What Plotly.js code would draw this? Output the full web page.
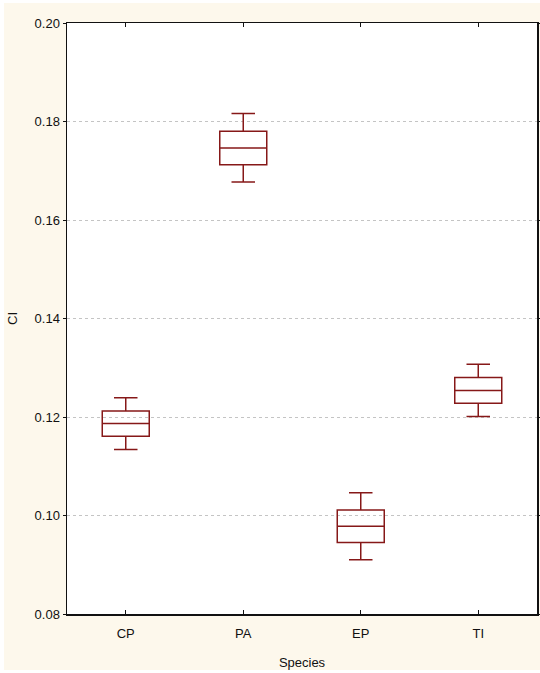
<!DOCTYPE html>
<html>
<head>
<meta charset="utf-8">
<script src="https://cdn.plot.ly/plotly-3.0.1.min.js"></script>
<style>
html,body{margin:0;padding:0;background:#ffffff;}
#wrap{position:absolute;left:4px;top:3px;width:536px;height:667px;background:#fdf8ec;}
#chart{position:absolute;left:0;top:0;width:540px;height:673px;}
</style>
</head>
<body>
<div id="wrap"></div>
<div id="chart"></div>
<script>
const species = ["CP", "PA", "EP", "TI"];
const lowerWhisker = [0.1134, 0.1677, 0.0910, 0.1201];
const q1 = [0.1161, 0.1712, 0.0945, 0.1228];
const median = [0.1187, 0.1746, 0.0978, 0.1254];
const q3 = [0.1212, 0.1780, 0.1011, 0.1280];
const upperWhisker = [0.1239, 0.1816, 0.1046, 0.1307];
const yTicks = [0.08, 0.10, 0.12, 0.14, 0.16, 0.18, 0.20];
const yTickLabels = ["0.08", "0.10", "0.12", "0.14", "0.16", "0.18", "0.20"];

const trace = {
  type: "box",
  x: species,
  q1: q1,
  median: median,
  q3: q3,
  lowerfence: lowerWhisker,
  upperfence: upperWhisker,
  boxpoints: false,
  width: 0.4,
  whiskerwidth: 0.5,
  line: {color: "#861818", width: 1.5},
  fillcolor: "rgba(255,255,255,0)",
  hoverinfo: "skip",
  showlegend: false
};

const font = {family: "Liberation Sans, Arial, sans-serif", size: 13, color: "#111"};

const layout = {
  width: 540,
  height: 673,
  margin: {l: 67, r: 3, t: 23, b: 59},
  paper_bgcolor: "rgba(0,0,0,0)",
  plot_bgcolor: "#ffffff",
  font: font,
  showlegend: false,
  xaxis: {
    type: "category",
    categoryorder: "array",
    categoryarray: species,
    range: [-0.5, 3.5],
    showline: true,
    linecolor: "#111",
    linewidth: 1.5,
    mirror: "ticks",
    ticks: "inside",
    ticklen: 4,
    tickcolor: "#111",
    showgrid: false,
    zeroline: false,
    tickfont: font,
    ticklabelstandoff: 7,
    title: {text: "Species", font: font, standoff: 18}
  },
  yaxis: {
    range: [0.08, 0.20],
    tickvals: yTicks,
    ticktext: yTickLabels,
    showline: true,
    linecolor: "#111",
    linewidth: 1.5,
    mirror: "ticks",
    ticks: "outside",
    ticklen: 3,
    tickcolor: "#111",
    showgrid: true,
    gridcolor: "#c4c4c4",
    griddash: "dot",
    gridwidth: 1,
    zeroline: false,
    tickfont: font,
    title: {text: "CI", font: font, standoff: 14}
  }
};

Plotly.newPlot("chart", [trace], layout, {displayModeBar: false, staticPlot: true});
</script>
</body>
</html>
